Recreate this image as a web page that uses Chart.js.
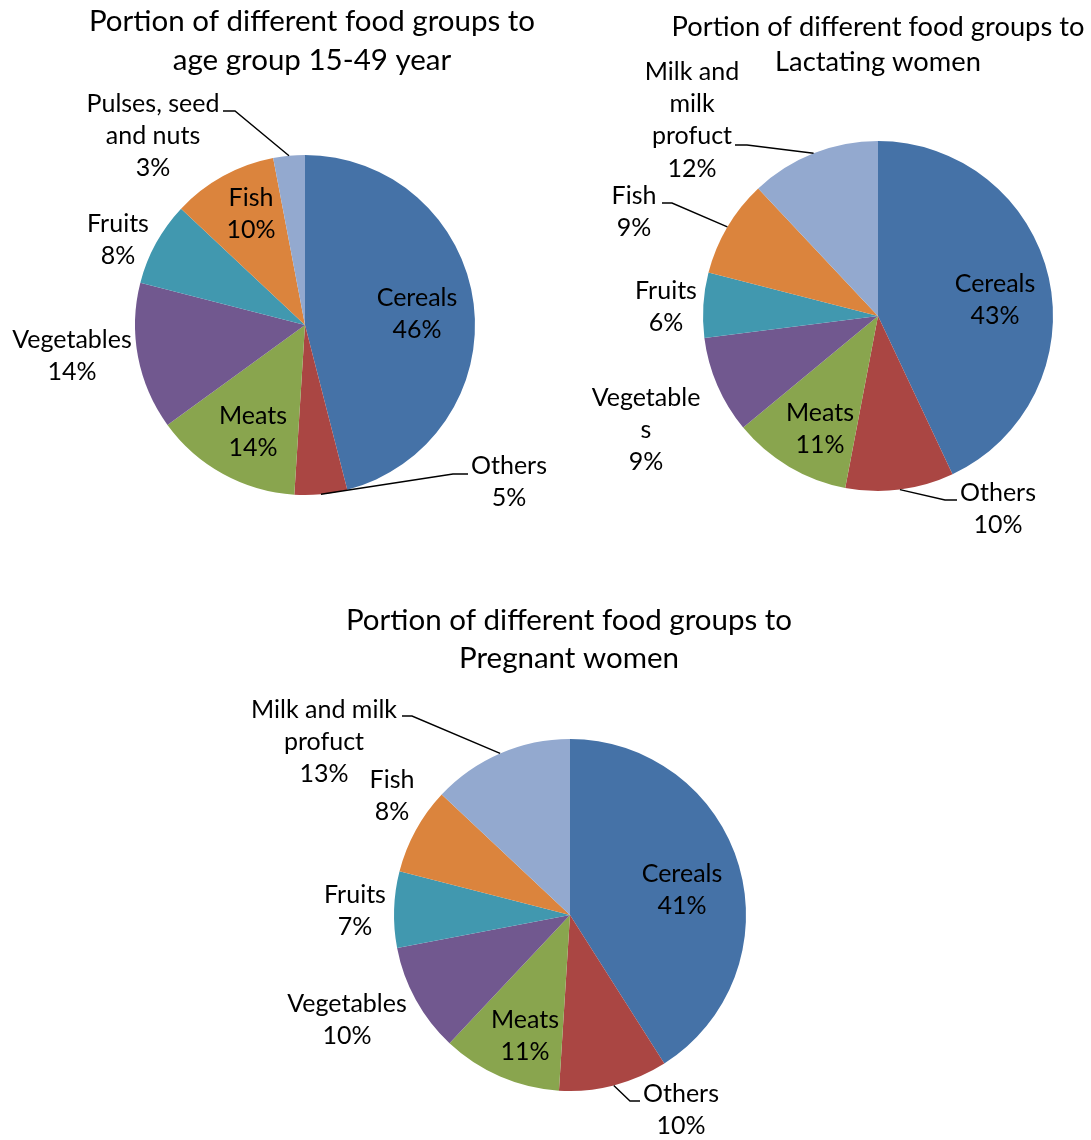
<!DOCTYPE html>
<html>
<head>
<meta charset="utf-8">
<script src="https://cdn.jsdelivr.net/npm/chart.js@4.4.0/dist/chart.umd.min.js"></script>
<style>
  html, body { margin: 0; padding: 0; background: #fff; }
  #page { position: relative; width: 1091px; height: 1140px; }
  canvas { position: absolute; }
</style>
</head>
<body>
<div id="page">
  <canvas id="adults"></canvas>
  <canvas id="lactating"></canvas>
  <canvas id="pregnant"></canvas>
</div>
<script>
// shares in percent, listed clockwise from 12 o'clock
const adultGroups = ['Cereals', 'Others', 'Meats', 'Vegetables', 'Fruits', 'Fish', 'Pulses, seed and nuts'];
const adultShares = [46, 5, 14, 14, 8, 10, 3];

const lactatingGroups = ['Cereals', 'Others', 'Meats', 'Vegetables', 'Fruits', 'Fish', 'Milk and milk profuct'];
const lactatingShares = [43, 10, 11, 9, 6, 9, 12];

const pregnantGroups = ['Cereals', 'Others', 'Meats', 'Vegetables', 'Fruits', 'Fish', 'Milk and milk profuct'];
const pregnantShares = [41, 10, 11, 10, 7, 8, 13];

const sliceColors = ['#4572A7', '#AA4643', '#89A54E', '#71588F', '#4198AF', '#DB843D', '#93A9CF'];

const FONT = 'Lato, "Noto Sans", sans-serif';
const LABEL_SIZE = 25;
const LINE = 32.3;

// placement of each chart on the page; label spots and leader points are
// offsets from the pie centre
const adultLayout = {
    box: [0, 0, 560, 570], center: [305, 325], radius: 170,
    title: ['Portion of different food groups to', 'age group 15-49 year'],
    titleSize: 29.5, titleX: 312, titleY: [21, 60],
    spots: [[112, -11], [204, 157], [-52, 107], [-233, 31], [-187, -85], [-54, -111], [-152, -189]],
    wrap: {6: ['Pulses, seed', 'and nuts']},
    leaders: {1: [[148, 149], [163, 149]], 6: [[-70, -214], [-82, -214]]}
};
const lactatingLayout = {
    box: [560, 0, 531, 570], center: [878, 316], radius: 175,
    title: ['Portion of different food groups to', 'Lactating women'],
    titleSize: 27.3, titleX: 878, titleY: [27, 62],
    spots: [[117, -16], [120, 193], [-58, 113], [-232, 114], [-212, -9], [-244, -104], [-186, -196]],
    wrap: {3: ['Vegetable', 's'], 6: ['Milk and', 'milk', 'profuct']},
    leaders: {1: [[67, 184], [79, 184]], 5: [[-206, -113], [-216, -113]], 6: [[-131, -171], [-143, -171]]}
};
const pregnantLayout = {
    box: [0, 580, 1091, 560], center: [570, 915], radius: 176,
    title: ['Portion of different food groups to', 'Pregnant women'],
    titleSize: 29.5, titleX: 569, titleY: [620, 658],
    spots: [[112, -25], [111, 195], [-45, 121], [-223, 105], [-215, -4], [-178, -119], [-246, -173]],
    wrap: {6: ['Milk and milk', 'profuct']},
    leaders: {1: [[60, 186], [70, 186]], 6: [[-158, -199], [-168, -199]]}
};

// title, percentage labels and leader lines, drawn in page coordinates
const annotate = {
    id: 'annotate',
    afterDraw(chart, args, opts) {
        const L = opts.layout;
        const ctx = chart.ctx;
        const arcs = chart.getDatasetMeta(0).data;
        const names = chart.data.labels;
        const values = chart.data.datasets[0].data;
        const [bx, by] = L.box;
        const cx = bx + arcs[0].x;
        const cy = by + arcs[0].y;

        ctx.save();
        ctx.translate(-bx, -by);
        ctx.fillStyle = '#000';
        ctx.textAlign = 'center';
        ctx.textBaseline = 'middle';

        ctx.font = L.titleSize + 'px ' + FONT;
        L.title.forEach((t, i) => ctx.fillText(t, L.titleX, L.titleY[i]));

        ctx.strokeStyle = '#000';
        ctx.lineWidth = 1.4;
        Object.entries(L.leaders).forEach(([i, pts]) => {
            const a = arcs[i];
            const mid = (a.startAngle + a.endAngle) / 2;
            ctx.beginPath();
            ctx.moveTo(cx + Math.cos(mid) * a.outerRadius, cy + Math.sin(mid) * a.outerRadius);
            pts.forEach(([dx, dy]) => ctx.lineTo(cx + dx, cy + dy));
            ctx.stroke();
        });

        ctx.font = LABEL_SIZE + 'px ' + FONT;
        names.forEach((name, i) => {
            const lines = (L.wrap[i] || [name]).concat(values[i] + '%');
            const [dx, dy] = L.spots[i];
            const top = cy + dy - (lines.length - 1) * LINE / 2;
            lines.forEach((s, k) => ctx.fillText(s, cx + dx, top + k * LINE));
        });
        ctx.restore();
    }
};

function makePie(id, groups, shares, L) {
    const canvas = document.getElementById(id);
    const [bx, by, bw, bh] = L.box;
    canvas.width = bw;
    canvas.height = bh;
    canvas.style.left = bx + 'px';
    canvas.style.top = by + 'px';
    const [px, py] = L.center;
    const r = L.radius;
    return new Chart(canvas.getContext('2d'), {
        type: 'pie',
        data: {
            labels: groups,
            datasets: [{
                data: shares,
                backgroundColor: sliceColors,
                borderWidth: 0
            }]
        },
        options: {
            responsive: false,
            maintainAspectRatio: false,
            animation: false,
            layout: {
                padding: {
                    left: px - r - bx,
                    top: py - r - by,
                    right: bx + bw - (px + r),
                    bottom: by + bh - (py + r)
                }
            },
            plugins: {
                legend: {display: false},
                tooltip: {enabled: false},
                annotate: {layout: L}
            }
        },
        plugins: [annotate]
    });
}

makePie('adults', adultGroups, adultShares, adultLayout);
makePie('lactating', lactatingGroups, lactatingShares, lactatingLayout);
makePie('pregnant', pregnantGroups, pregnantShares, pregnantLayout);
</script>
</body>
</html>
